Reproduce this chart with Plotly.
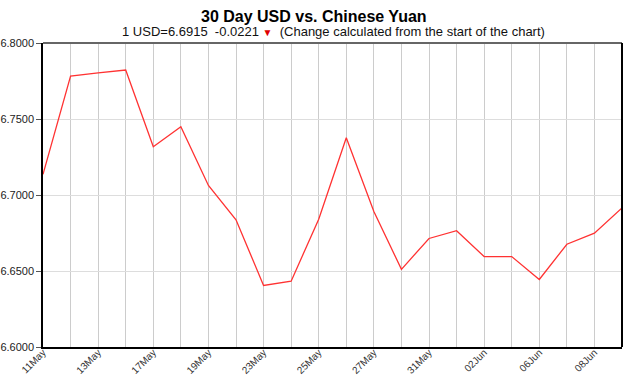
import plotly.graph_objects as go

dates = ["11May", "12May", "13May", "16May", "17May", "18May", "19May", "20May",
         "23May", "24May", "25May", "26May", "27May", "30May", "31May", "01Jun",
         "02Jun", "03Jun", "06Jun", "07Jun", "08Jun", "09Jun"]
rates = [6.7136, 6.7783, 6.7803, 6.7822, 6.7318, 6.7449, 6.7063, 6.6837,
         6.6405, 6.6433, 6.6841, 6.7377, 6.6892, 6.6511, 6.6714, 6.6765,
         6.6595, 6.6595, 6.6444, 6.6676, 6.6749, 6.6915]
shown_labels = ["11May", "13May", "17May", "19May", "23May", "25May", "27May",
                "31May", "02Jun", "06Jun", "08Jun"]
y_ticks = [6.60, 6.65, 6.70, 6.75, 6.80]

title_text = "30 Day USD vs. Chinese Yuan"
sub_left = "1 USD=6.6915  -0.0221 "
sub_right = "  (Change calculated from the start of the chart)"

ticktext = [d if d in shown_labels else "" for d in dates]

fig = go.Figure()
fig.add_trace(go.Scatter(
    x=list(range(len(dates))), y=rates, mode="lines",
    line=dict(color="rgb(255,50,50)", width=1.3),
    hoverinfo="skip", showlegend=False,
))

font = "Liberation Sans, Arial, sans-serif"
fig.update_layout(
    width=627, height=378,
    margin=dict(l=43, r=5, t=43, b=31),
    paper_bgcolor="white", plot_bgcolor="white",
    font=dict(family=font, size=11, color="#222"),
    xaxis=dict(
        range=[0, len(dates) - 1], automargin=False,
        tickmode="array", tickvals=list(range(len(dates))), ticktext=ticktext,
        tickangle=-45, tickfont=dict(size=10, color="#333"),
        ticklabelstandoff=-6,
        showgrid=True, gridcolor="#cccccc", gridwidth=1,
        showline=True, linecolor="black", linewidth=1.5, mirror=False,
        ticks="", zeroline=False,
    ),
    yaxis=dict(
        range=[6.60, 6.80], automargin=False,
        tickmode="array", tickvals=y_ticks,
        ticktext=[f"{v:.4f}" for v in y_ticks],
        tickfont=dict(size=11, color="#222"),
        showgrid=True, gridcolor="#dddddd", gridwidth=1,
        showline=True, linecolor="black", linewidth=1.5,
        ticks="outside", ticklen=5, tickcolor="#555", tickwidth=1,
        zeroline=False,
    ),
    shapes=[
        dict(type="line", xref="paper", yref="paper", x0=0, x1=1, y0=1, y1=1,
             line=dict(color="#666666", width=2)),
        dict(type="line", xref="paper", yref="paper", x0=1, x1=1, y0=0, y1=1,
             line=dict(color="black", width=2)),
    ],
    annotations=[
        dict(text=f"<b>{title_text}</b>", xref="paper", yref="paper",
             x=0.5, y=1, xanchor="center", yanchor="middle",
             showarrow=False, font=dict(size=16, color="black", family=font),
             xshift=-19, yshift=27),
        dict(text=sub_left + "<span style='color:#e00000;font-size:10px'>▼</span>" + sub_right,
             xref="paper", yref="paper", x=0.5, y=1, xanchor="center", yanchor="middle",
             showarrow=False, font=dict(size=13, color="#111", family=font),
             xshift=1, yshift=12),
    ],
)

fig.write_html("out.html")
